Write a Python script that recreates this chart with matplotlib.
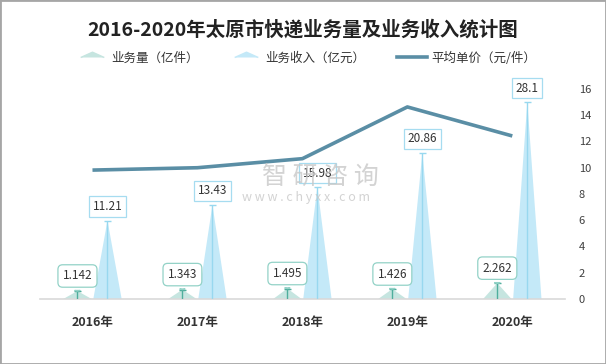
import matplotlib
matplotlib.use('Agg')
import matplotlib.pyplot as plt
from matplotlib.lines import Line2D
from matplotlib.patches import Rectangle

plt.rcParams['font.family'] = ['Noto Sans CJK SC', 'DejaVu Sans']

# data
years = ['2016年', '2017年', '2018年', '2019年', '2020年']
volume = [1.142, 1.343, 1.495, 1.426, 2.262]      # 亿件
revenue = [11.21, 13.43, 15.98, 20.86, 28.1]      # 亿元
price = [9.82, 10.00, 10.69, 14.63, 12.42]        # 元/件
right_ticks = [0, 2, 4, 6, 8, 10, 12, 14, 16]

vol_fill, vol_line = '#c6e5e0', '#4fae9d'
rev_fill, rev_line = '#c4e9f8', '#98d8ef'
price_color = '#5a8ea5'

fig = plt.figure(figsize=(6.06, 3.64), dpi=100)
ax = fig.add_axes([0.066, 0.1786, 0.866, 0.577])
ax2 = ax.twinx()

off, w = 0.143, 0.27
xs = list(range(len(years)))

def triangles(xc, vals, fill, line, box):
    for x, v in zip(xc, vals):
        ax.fill([x - w / 2, x, x + w / 2], [0, v, 0], color=fill, lw=0, zorder=2)
    ax.vlines(xc, 0, vals, color=line, lw=1, zorder=3)
    ax.hlines(vals, [x - 0.035 for x in xc], [x + 0.035 for x in xc], color=line, lw=1, zorder=3)
    for x, v in zip(xc, vals):
        if box == 'round':
            ax.annotate(f'{v:g}', (x, v), xytext=(0, 15), textcoords='offset pixels',
                        ha='center', va='center', fontsize=8.5, color='#333333',
                        bbox=dict(boxstyle='round,pad=0.4', fc='white', ec='#93d2c7', lw=0.9),
                        arrowprops=dict(arrowstyle='wedge,tail_width=0.45,shrink_factor=0.6',
                                        fc='white', ec='#93d2c7', lw=0.9, shrinkB=0), zorder=5)
        else:
            ax.annotate(f'{v:g}', (x, v), xytext=(0, 14), textcoords='offset pixels',
                        ha='center', va='center', fontsize=8.5, color='#333333',
                        bbox=dict(boxstyle='square,pad=0.3', fc='white', ec='#a6dcf0', lw=0.9),
                        zorder=5)

triangles([x - off for x in xs], volume, vol_fill, vol_line, 'round')
triangles([x + off for x in xs], revenue, rev_fill, rev_line, 'square')

ax.set_xlim(-0.5, len(years) - 0.5)
ax.set_ylim(0, 30)
ax.set_yticks([])
ax.set_xticks(xs)
ax.set_xticklabels(years, fontsize=9, fontweight='bold', color='#333333')
ax.tick_params(axis='x', length=0, pad=12)
for s in ['top', 'left', 'right']:
    ax.spines[s].set_visible(False)
ax.spines['bottom'].set_color('#d9d9d9')
ax.spines['bottom'].set_linewidth(1.2)

ax2.plot(xs, price, color=price_color, lw=2.6, solid_capstyle='butt', zorder=4)
ax2.set_ylim(0, 16)
ax2.set_yticks(right_ticks)
ax2.tick_params(axis='y', length=0, pad=10, labelsize=8, labelcolor='#404040')
for s in ax2.spines.values():
    s.set_visible(False)
ax2.set_zorder(ax.get_zorder() - 1)
ax.patch.set_visible(False)

# watermark
fig.text(0.528, 0.515, '智 研 咨 询', fontsize=18, color='#c8c8c8', ha='center', va='center', alpha=0.8)
fig.text(0.505, 0.458, 'w w w . c h y x x . c o m', fontsize=9, color='#c8c8c8', ha='center', va='center', alpha=0.8)

fig.suptitle('2016-2020年太原市快递业务量及业务收入统计图', x=0.5, y=0.945,
             fontsize=14, fontweight='bold', color='#222222')

tri = [(-1, 0), (0, 0.45), (1, 0)]
handles = [
    Line2D([], [], ls='none', marker=tri, markersize=17, color=vol_fill),
    Line2D([], [], ls='none', marker=tri, markersize=17, color=rev_fill),
    Line2D([], [], color=price_color, lw=2.6),
]
fig.legend(handles, ['业务量（亿件）', '业务收入（亿元）', '平均单价（元/件）'],
           loc='center', bbox_to_anchor=(0.506, 0.84), ncol=3, frameon=False,
           fontsize=9, columnspacing=2.6, handlelength=2.4, handletextpad=0.3,
           labelcolor='#333333')

fig.patches.append(Rectangle((0, 0), 1, 1, transform=fig.transFigure, fill=False,
                             ec='#a6a6a6', lw=2))

fig.savefig('out.png', dpi=100)
